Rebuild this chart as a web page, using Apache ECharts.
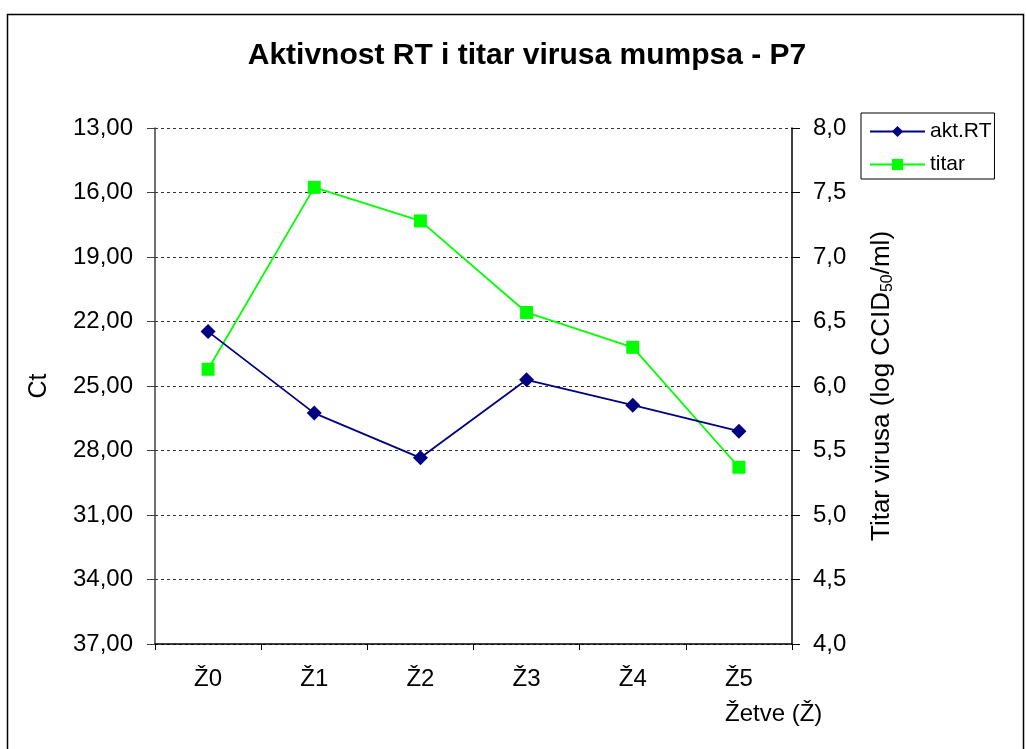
<!DOCTYPE html>
<html>
<head>
<meta charset="utf-8">
<script src="https://cdn.jsdelivr.net/npm/echarts@6/dist/echarts.min.js"></script>
<style>
  html, body { margin: 0; padding: 0; background: #fff; }
  #chart { width: 1026px; height: 749px; }
</style>
</head>
<body>
<div id="chart"></div>
<script>
// Harvests (žetve) and the two measured series
const categories = ['Ž0', 'Ž1', 'Ž2', 'Ž3', 'Ž4', 'Ž5'];
const aktRT = [22.47, 26.26, 28.34, 24.71, 25.89, 27.10];   // Ct, left axis (inverted)
const titar = [6.13, 7.54, 7.28, 6.57, 6.30, 5.37];         // log CCID50/ml, right axis

const chart = echarts.init(document.getElementById('chart'), null, { renderer: 'canvas' });
const FONT = 'Liberation Sans, Arial, sans-serif';

chart.setOption({
  animation: false,
  backgroundColor: '#ffffff',
  title: {
    text: 'Aktivnost RT i titar virusa mumpsa - P7',
    left: 522,
    textAlign: 'center',
    top: 36,
    textStyle: { fontFamily: FONT, fontSize: 30, fontWeight: 'bold', color: '#000' }
  },
  legend: {
    orient: 'vertical',
    left: 861,
    top: 113,
    padding: [8, 3, 4, 8],
    itemGap: 12,
    itemWidth: 55,
    itemHeight: 14,
    borderColor: '#000',
    borderWidth: 1,
    textStyle: { fontFamily: FONT, fontSize: 21, color: '#000' },
    data: ['akt.RT', 'titar']
  },
  grid: { left: 155, right: 234, top: 128, bottom: 105, containLabel: false },
  xAxis: {
    type: 'category',
    data: categories,
    boundaryGap: true,
    axisLine: { lineStyle: { color: '#000', width: 1.5 } },
    axisTick: { show: true, length: 6, lineStyle: { color: '#000' } },
    axisLabel: { fontFamily: FONT, fontSize: 24, color: '#000', margin: 23 },
    splitLine: { show: false }
  },
  yAxis: [
    {
      type: 'value',
      inverse: true,
      min: 13, max: 37, interval: 3,
      name: 'Ct',
      nameLocation: 'middle',
      nameGap: 103,
      nameRotate: 90,
      nameTextStyle: { fontFamily: FONT, fontSize: 25, color: '#000' },
      axisLine: { show: true, lineStyle: { color: '#404040', width: 1.5 } },
      axisTick: { show: true, length: 8, lineStyle: { color: '#404040' } },
      axisLabel: {
        fontFamily: FONT, fontSize: 24, color: '#000', margin: 22,
        formatter: v => v.toFixed(2).replace('.', ',')
      },
      splitLine: { show: true, lineStyle: { color: '#333', type: [3, 3], width: 1 } }
    },
    {
      type: 'value',
      min: 4, max: 8, interval: 0.5,
      position: 'right',
      name: '{n|Titar virusa (log CCID}{s|50}{n|/ml)}',
      nameLocation: 'middle',
      nameGap: 76,
      nameRotate: 90,
      nameTextStyle: {
        fontFamily: FONT, fontSize: 26, color: '#000',
        rich: {
          n: { fontFamily: FONT, fontSize: 26, color: '#000' },
          s: { fontFamily: FONT, fontSize: 16, color: '#000', padding: [12, 0, 0, 0] }
        }
      },
      axisLine: { show: true, lineStyle: { color: '#000', width: 1.5 } },
      axisTick: { show: true, length: 8, lineStyle: { color: '#000' } },
      axisLabel: {
        fontFamily: FONT, fontSize: 24, color: '#000', margin: 21,
        formatter: v => v.toFixed(1).replace('.', ',')
      },
      splitLine: { show: false }
    }
  ],
  series: [
    {
      name: 'akt.RT',
      type: 'line',
      yAxisIndex: 0,
      data: aktRT,
      symbol: 'diamond',
      symbolSize: 15,
      lineStyle: { color: '#000080', width: 1.8 },
      itemStyle: { color: '#000080' },
      z: 3
    },
    {
      name: 'titar',
      type: 'line',
      yAxisIndex: 1,
      data: titar,
      symbol: 'rect',
      symbolSize: 13,
      lineStyle: { color: '#00ff00', width: 1.8 },
      itemStyle: { color: '#00ff00' },
      z: 2
    }
  ],
  graphic: [
    {
      type: 'rect',
      left: 5, top: 12,
      shape: { width: 1016, height: 760 },
      style: { fill: 'none', stroke: '#000', lineWidth: 1.5 },
      silent: true
    },
    {
      type: 'text',
      left: 725, top: 702,
      style: { text: 'Žetve (Ž)', font: '24px ' + FONT, fill: '#000' }
    }
  ]
});
</script>
</body>
</html>
